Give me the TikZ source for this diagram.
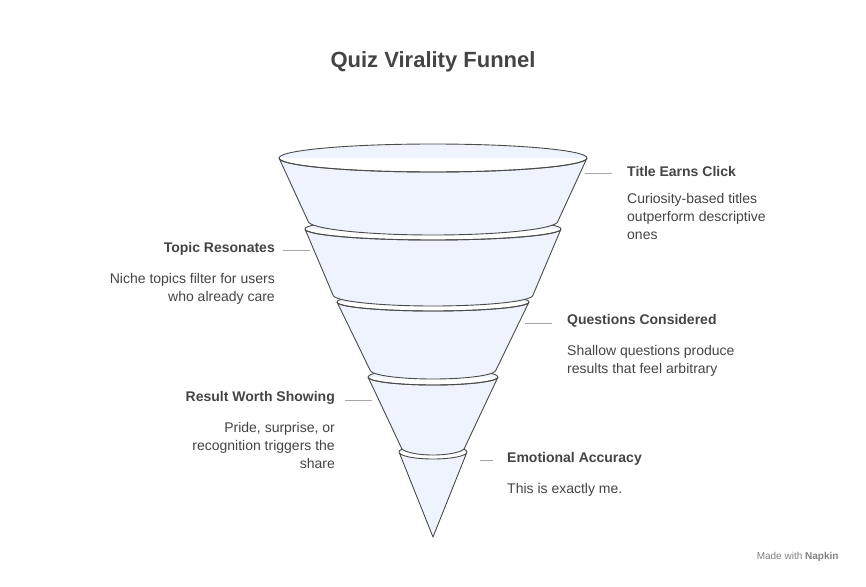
\documentclass[tikz,border=0pt]{standalone}
\usepackage{fontspec}
\setmainfont{Liberation Sans}
\usetikzlibrary{positioning}
\definecolor{funfill}{HTML}{EEF3FD}
\definecolor{funline}{HTML}{4A4A4A}
\definecolor{txt}{HTML}{444444}
\tikzset{
  seg/.style={fill=funfill, draw=funline, line width=0.9pt, line join=round},
  lead/.style={draw=gray!70, line width=1pt},
  head/.style={font=\bfseries\fontsize{14}{17}\selectfont, text=txt, inner sep=0pt},
  desc/.style={font=\fontsize{14}{18}\selectfont, text=txt, inner sep=0pt, align=left},
}
% segment: top y, top half width, bottom y, bottom half width, rim height
\newcommand{\funseg}[5]{%
  \draw[seg] (433-#2,#1) -- (433-#4,#3) arc[start angle=180, end angle=360, x radius=#4, y radius=-#5]
    -- (433+#2,#1) arc[start angle=0, end angle=360, x radius=#2, y radius=#5];
  \draw[seg, fill=none] (433+#2,#1) arc[start angle=0, end angle=-180, x radius=#2, y radius=-#5];
}
\begin{document}
\begin{tikzpicture}[x=1pt, y=-1pt]
\useasboundingbox (0,0) rectangle (866,586);
\node[font=\bfseries\fontsize{22}{25}\selectfont, text=txt] (title) at (433,62) {Quiz Virality Funnel};

% funnel, bottom first
\draw[seg] (433-34,452) -- (433,537) -- (433+34,452) arc[start angle=0, end angle=360, x radius=34, y radius=7];
\funseg{377}{65}{447}{32}{8}
\funseg{302}{96}{370}{63}{9}
\funseg{229}{128}{295}{100}{11}
\funseg{158}{154}{221}{125}{14}

% labels right
\coordinate (r1a) at (585,173); \coordinate (r1b) at (612,173);
\draw[lead] (r1a) -- (r1b);
\node[head, anchor=west] (click) at (627,171) {Title Earns Click};
\node[desc, below=17pt of click.south west, anchor=north west] (clickd) {Curiosity-based titles\\outperform descriptive\\ones};

\coordinate (r2a) at (525,323); \coordinate (r2b) at (552,323);
\draw[lead] (r2a) -- (r2b);
\node[head, anchor=west] (quest) at (567,321) {Questions Considered};
\node[desc, below=17pt of quest.south west, anchor=north west] (questd) {Shallow questions produce\\results that feel arbitrary};

\coordinate (r3a) at (480,460); \coordinate (r3b) at (493,460);
\draw[lead] (r3a) -- (r3b);
\node[head, anchor=west] (emo) at (507,459) {Emotional Accuracy};
\node[desc, below=17pt of emo.south west, anchor=north west] (emod) {This is exactly me.};

% labels left
\coordinate (l1a) at (283,250); \coordinate (l1b) at (310,250);
\draw[lead] (l1a) -- (l1b);
\node[head, anchor=east] (topic) at (275,249) {Topic Resonates};
\node[desc, align=right, below=17pt of topic.south east, anchor=north east] (topicd) {Niche topics filter for users\\who already care};

\coordinate (l2a) at (345,400); \coordinate (l2b) at (372,400);
\draw[lead] (l2a) -- (l2b);
\node[head, anchor=east] (result) at (335,398) {Result Worth Showing};
\node[desc, align=right, below=17pt of result.south east, anchor=north east] (resultd) {Pride, surprise, or\\recognition triggers the\\share};

\node[font=\fontsize{10}{12}\selectfont, text=gray, anchor=east] (mark) at (842,557) {Made with \textbf{Napkin}};
\end{tikzpicture}
\end{document}
